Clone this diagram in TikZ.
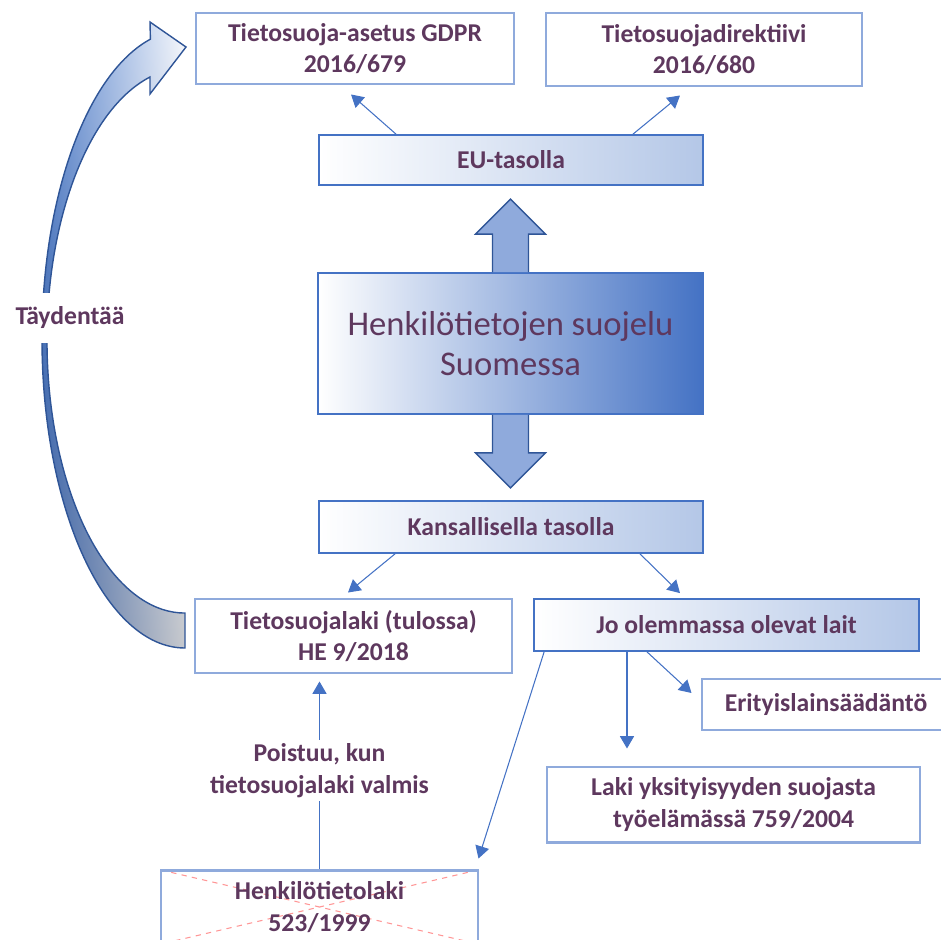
\documentclass[tikz,border=0pt]{standalone}
\usepackage{fontspec}
\setmainfont{Carlito}
\usetikzlibrary{arrows.meta, calc, positioning, shadings}

\definecolor{txtpurple}{RGB}{94,56,94}
\definecolor{lightline}{RGB}{143,170,220}
\definecolor{midblue}{RGB}{68,114,196}
\definecolor{paleblue}{RGB}{180,199,231}
\definecolor{darkblue}{RGB}{47,85,151}
\definecolor{crossred}{RGB}{255,150,150}
\definecolor{curveUL}{RGB}{80,128,208}
\definecolor{curveUR}{RGB}{246,248,252}
\definecolor{curveLL}{RGB}{47,85,151}
\definecolor{curveLR}{RGB}{200,202,206}

\tikzset{
    lawtext/.style = {inner sep = 0pt, align = center, text = txtpurple,
        font = \fontsize{14.6}{18}\selectfont\bfseries},
    lawbox/.style = {lawtext, draw = lightline, line width = 1.7pt, fill = white},
    levelbox/.style = {lawtext, draw = midblue, line width = 1pt,
        left color = white, right color = paleblue},
    link/.style = {midblue, line width = 0.6pt, -{Triangle[length = 7pt, width = 8pt]}},
    blockarrow/.style = {draw = darkblue, fill = lightline, line width = 0.8pt},
    curvearrow/.style = {draw = darkblue, line width = 0.8pt,
        upper left = curveUL, upper right = curveUR,
        lower left = curveLL, lower right = curveLR},
}

\begin{document}
\begin{tikzpicture}[x = 0.02cm, y = -0.02cm, line join = miter]

    \def\px{0.02cm}

    \clip[use as bounding box] (0,0) rectangle (941,940);

    % Taydentaa
    \shade[curvearrow] (185,648) arc[start angle = 90, end angle = 256, x radius = 143, y radius = 309]
        -- (150,22) -- (186,47) -- (150,94) -- (150,77)
        arc[start angle = 255.3, end angle = 90, x radius = 138, y radius = 272.5] -- cycle;
    \node[lawtext, fill = white, inner ysep = 8pt, inner xsep = 2pt] (Tayd) at (70,318) {Täydentää};

    % EU level
    \node[lawbox, minimum width = 318*\px, minimum height = 71*\px] (GDPR) at (355,48.5)
        {Tietosuoja-asetus GDPR\\2016/679};
    \node[lawbox, minimum width = 316*\px, minimum height = 73*\px] (Dir) at (704,49.5)
        {Tietosuojadirektiivi\\2016/680};
    \node[levelbox, minimum width = 384*\px, minimum height = 50*\px] (EU) at (511,160) {EU-tasolla};

    % center
    \node[draw = midblue, line width = 1pt, left color = white, right color = midblue,
        minimum width = 385*\px, minimum height = 141*\px, align = center, text = txtpurple,
        font = \fontsize{19.7}{22.5}\selectfont] (Center) at (510.5,343.5)
        {Henkilötietojen suojelu\\Suomessa};

    \foreach \SIDE/\SGN in {north/1, south/-1}{
        \begin{scope}[shift = {(Center.\SIDE)}, yscale = \SGN]
            \draw[blockarrow] (-18,0) -- (-18,-38) -- (-35,-38) -- (0,-73)
                -- (35,-38) -- (18,-38) -- (18,0);
        \end{scope}}

    % national level
    \node[levelbox, minimum width = 384*\px, minimum height = 52*\px] (Kans) at (511,527)
        {Kansallisella tasolla};
    \node[lawbox, minimum width = 317*\px, minimum height = 74*\px] (TSL) at (353.5,636)
        {Tietosuojalaki (tulossa)\\HE 9/2018};
    \node[levelbox, minimum width = 385*\px, minimum height = 52*\px] (Jo) at (726.5,625)
        {Jo olemmassa olevat lait};
    \node[lawbox, minimum width = 248*\px, minimum height = 51*\px] (Erit) at (826,704.5)
        {Erityislainsäädäntö};
    \node[lawbox, minimum width = 373*\px, minimum height = 75*\px] (Laki) at (733.5,804.5)
        {Laki yksityisyyden suojasta\\työelämässä 759/2004};
    \node[lawbox, minimum width = 317*\px, minimum height = 74*\px,
        path picture = {\draw[crossred, dashed, line width = 0.6pt]
            (path picture bounding box.north west) -- (path picture bounding box.south east)
            (path picture bounding box.north east) -- (path picture bounding box.south west);}]
        (HTL) at (319.5,907) {Henkilötietolaki\\523/1999};
    \node[lawtext, fill = white, inner sep = 2pt] (Poist) at ($(HTL.north)+(0,-98)$)
        {Poistuu, kun\\tietosuojalaki valmis};

    \draw[link] ($(EU.north)+(-115,0)$) -- ($(GDPR.south)+(-4,9)$);
    \draw[link] ($(EU.north)+(122,0)$) -- ($(Dir.south)+(-24,8)$);
    \draw[link] ($(Kans.south)+(-116,0)$) -- ($(TSL.north)+(-5.5,-5)$);
    \draw[link] ($(Kans.south)+(129,0)$) -- ($(Jo.north)+(-46.5,-5)$);
    \draw[link] ($(Jo.south)+(-79.5,0)$) -- ($(Erit.west)+(-9,-11.5)$);
    \draw[link] ($(Jo.south)+(-99.5,0)$) -- ($(Laki.north)+(-106.5,-17)$);
    \draw[link] ($(Jo.south west)+(11,0)$) -- ($(HTL.north east)+(-1,-10)$);
    \draw[midblue, line width = 0.6pt] (HTL.north) -- (Poist.south);
    \draw[link] (Poist.north) -- ($(Poist.north |- TSL.south)+(0,7)$);

\end{tikzpicture}
\end{document}
